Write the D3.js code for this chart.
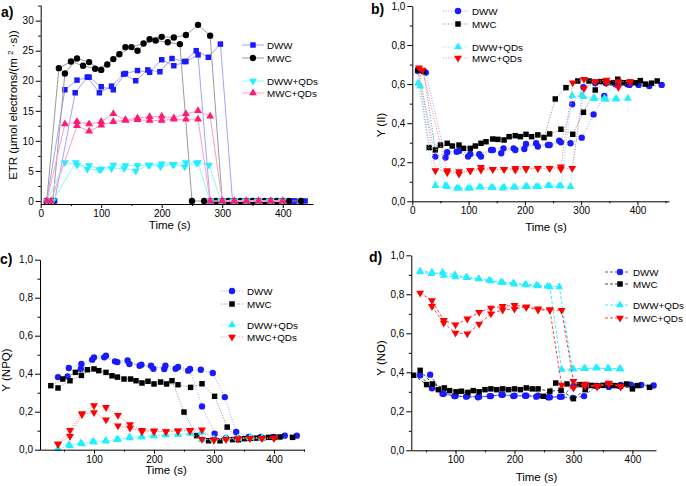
<!DOCTYPE html>
<html><head><meta charset="utf-8">
<script src="https://cdn.jsdelivr.net/npm/d3@7"></script>
<style>
body{margin:0;background:#fff}
text{font-family:"Liberation Sans",Arial,sans-serif;fill:#000}
</style></head><body>
<svg width="686" height="486"></svg>
<script>
// ---- data: each treatment has two replicate runs, [time (s), value]
// a) ETR
const etrDWW=[
 [[10,0],[40,18.5],[60,20.1],[80,20.6],[100,19.0],[120,18.5],[140,21.2],[160,21.7],[180,21.4],[200,23.5],[220,22.5],[240,23.2],[260,24.3],[280,0],[300,0],[320,0],[340,0],[360,0],[380,0],[400,0],[420,0]],
 [[23,0],[57,18.0],[77,20.6],[97,18.0],[117,19.1],[137,21.1],[157,20.0],[177,21.8],[197,21.5],[217,23.7],[237,23.2],[257,25.0],[277,23.9],[297,26.1],[317,0],[337,0],[357,0],[377,0],[397,0],[417,0],[437,0]]];
const etrMWC=[
 [[10,0],[30,22.1],[50,23.2],[70,22.5],[90,22.0],[110,22.7],[130,24.4],[150,25.6],[170,26.2],[190,26.7],[210,26.4],[230,26.1],[250,0],[270,0],[290,0],[310,0],[330,0],[350,0],[370,0],[390,0],[410,0],[430,0]],
 [[20,0],[40,21.2],[60,23.7],[80,23.1],[100,21.8],[120,23.6],[140,25.6],[160,25.0],[180,26.9],[200,27.3],[220,27.2],[240,27.6],[260,29.3],[280,27.5],[300,0],[320,0],[340,0],[360,0],[380,0],[400,0]]];
const etrDWWQ=[
 [[10,0],[40,6.4],[60,6.0],[80,5.9],[100,5.3],[120,6.0],[140,5.9],[160,5.9],[180,6.0],[200,6.2],[220,6.1],[240,6.4],[260,6.4],[280,0],[300,0],[320,0],[340,0],[360,0],[380,0],[400,0]],
 [[20,0],[58,6.4],[77,5.3],[97,5.2],[117,5.4],[138,5.4],[157,5.0],[178,6.0],[198,5.7],[218,6.1],[238,5.7],[258,6.3],[278,6.0],[298,0],[318,0],[338,0],[358,0],[378,0],[398,0]]];
const etrMWCQ=[
 [[10,0],[40,12.8],[60,13.2],[80,12.8],[100,13.2],[120,14.5],[140,13.5],[160,13.8],[180,14.0],[200,14.1],[220,13.8],[240,14.5],[260,15.0],[280,14.1],[300,0],[320,0],[340,0],[360,0],[380,0],[400,0]],
 [[17,0],[60,12.5],[80,11.6],[100,12.6],[120,13.2],[140,13.4],[160,13.5],[180,13.4],[200,13.4],[220,13.6],[240,13.6],[260,13.6],[280,0],[300,0],[320,0],[340,0],[360,0],[380,0],[400,0]]];
// b) Y(II)
const y2DWW=[
 [[10,0.667],[41,0.229],[62,0.251],[83,0.258],[103,0.242],[122,0.229],[143,0.263],[162,0.271],[183,0.263],[202,0.294],[223,0.28],[244,0.288],[264,0.302],[284,0.497],[304,0.584],[325,0.604],[344,0.604],[365,0.596],[386,0.596]],
 [[24,0.659],[59,0.224],[79,0.254],[99,0.229],[119,0.241],[140,0.263],[158,0.246],[180,0.271],[199,0.268],[220,0.297],[241,0.288],[261,0.31],[281,0.297],[301,0.326],[322,0.445],[341,0.54],[361,0.599],[382,0.599],[402,0.596],[421,0.59],[443,0.596]]];
const y2MWC=[
 [[10,0.672],[30,0.275],[50,0.288],[71,0.283],[91,0.271],[112,0.283],[131,0.305],[152,0.317],[172,0.331],[192,0.331],[212,0.331],[234,0.326],[254,0.524],[273,0.582],[294,0.616],[314,0.616],[334,0.613],[355,0.607],[376,0.607],[396,0.607],[414,0.6],[435,0.616]],
 [[20,0.665],[41,0.263],[62,0.297],[83,0.288],[103,0.271],[122,0.297],[143,0.319],[163,0.314],[183,0.336],[202,0.343],[223,0.34],[244,0.345],[264,0.369],[285,0.343],[304,0.456],[325,0.57],[344,0.613],[365,0.625],[386,0.61],[405,0.618],[425,0.605]]];
const y2DWWQ=[
 [[10,0.604],[41,0.08],[62,0.075],[83,0.067],[103,0.067],[122,0.072],[143,0.07],[163,0.072],[183,0.072],[204,0.075],[224,0.075],[244,0.078],[264,0.078],[284,0.541],[304,0.536],[324,0.527],[344,0.522],[363,0.524]],
 [[14,0.59],[59,0.08],[79,0.067],[99,0.067],[119,0.072],[140,0.07],[160,0.067],[180,0.072],[201,0.075],[220,0.075],[241,0.08],[261,0.078],[281,0.075],[301,0.544],[322,0.527],[341,0.527],[361,0.524],[383,0.527]]];
const y2MWCQ=[
 [[12,0.684],[41,0.157],[62,0.157],[83,0.152],[103,0.157],[122,0.174],[143,0.164],[163,0.164],[183,0.169],[202,0.169],[223,0.169],[244,0.169],[264,0.177],[285,0.607],[305,0.625],[325,0.613],[345,0.621],[366,0.613],[387,0.613]],
 [[18,0.672],[62,0.147],[83,0.14],[103,0.157],[122,0.16],[143,0.164],[163,0.164],[183,0.16],[202,0.165],[223,0.169],[244,0.169],[264,0.165],[284,0.169],[305,0.578],[325,0.613],[345,0.607],[366,0.584],[387,0.61]]];
// c) Y(NPQ)
const npqDWW=[
 [[40,0.382],[56,0.386],[78,0.425],[97,0.474],[117,0.486],[135,0.465],[156,0.47],[176,0.442],[195,0.442],[217,0.425],[236,0.426],[257,0.416],[278,0.421],[298,0.404],[318,0.277],[337,0.093],[358,0.067],[378,0.067],[399,0.067],[418,0.074],[438,0.074]],
 [[58,0.43],[79,0.451],[100,0.486],[120,0.495],[139,0.461],[159,0.451],[179,0.447],[199,0.426],[219,0.442],[240,0.435],[260,0.425],[280,0.228],[301,0.084],[320,0.06],[340,0.06],[360,0.062],[380,0.062],[400,0.065]]];
const npqMWC=[
 [[28,0.337],[48,0.372],[69,0.407],[89,0.421],[108,0.416],[130,0.389],[150,0.372],[170,0.363],[190,0.36],[211,0.356],[230,0.363],[250,0.198],[271,0.074],[291,0.047],[310,0.047],[331,0.053],[351,0.058],[371,0.061],[391,0.065],[410,0.067],[431,0.065]],
 [[40,0.325],[60,0.363],[79,0.391],[100,0.425],[120,0.407],[139,0.382],[161,0.372],[180,0.351],[200,0.346],[221,0.346],[240,0.342],[261,0.328],[280,0.347],[301,0.281],[322,0.119],[341,0.053],[361,0.06],[381,0.06],[400,0.065]]];
const npqDWWQ=[
 [[40,0.005],[60,0.02],[80,0.03],[100,0.04],[120,0.048],[140,0.055],[160,0.062],[180,0.067],[200,0.072],[220,0.077],[240,0.08],[260,0.085],[280,0.053],[300,0.056],[320,0.06],[340,0.06],[360,0.063],[380,0.06]],
 [[58,0.026],[78,0.035],[98,0.044],[119,0.044],[138,0.053],[159,0.067],[179,0.067],[199,0.074],[219,0.079],[240,0.082],[260,0.088],[279,0.091],[299,0.056],[320,0.061],[340,0.061],[361,0.065],[380,0.061]]];
const npqMWCQ=[
 [[40,0.03],[60,0.102],[80,0.19],[100,0.232],[120,0.223],[140,0.181],[160,0.132],[180,0.102],[200,0.1],[220,0.096],[240,0.1],[260,0.102],[280,0.105],[300,0.053],[320,0.055],[340,0.058],[360,0.06],[380,0.06],[400,0.061]],
 [[40,0.03],[60,0.07],[80,0.185],[100,0.196],[120,0.158],[140,0.126],[160,0.114],[180,0.095],[200,0.095],[220,0.095],[240,0.098],[260,0.1],[280,0.055],[300,0.05],[320,0.055],[340,0.058],[360,0.06],[380,0.06],[400,0.062]]];
// d) Y(NO)
const noDWW=[
 [[40,0.385],[60,0.318],[80,0.29],[100,0.278],[120,0.278],[140,0.275],[160,0.278],[180,0.285],[200,0.28],[220,0.28],[240,0.28],[260,0.272],[280,0.275],[300,0.33],[320,0.335],[340,0.33],[360,0.325],[380,0.335],[400,0.33]],
 [[57,0.388],[78,0.29],[98,0.278],[118,0.275],[138,0.272],[158,0.278],[178,0.285],[198,0.278],[218,0.28],[237,0.275],[257,0.272],[277,0.275],[299,0.268],[318,0.278],[338,0.33],[358,0.34],[378,0.33],[397,0.337],[415,0.335],[436,0.332]]];
const noMWC=[
 [[29,0.385],[51,0.337],[71,0.311],[90,0.306],[110,0.303],[130,0.306],[150,0.311],[170,0.311],[190,0.311],[210,0.311],[230,0.315],[249,0.277],[270,0.345],[289,0.34],[310,0.337],[330,0.333],[350,0.333],[370,0.332],[390,0.34],[409,0.332],[429,0.323]],
 [[40,0.41],[61,0.34],[81,0.32],[101,0.3],[121,0.297],[140,0.3],[160,0.315],[180,0.315],[200,0.315],[220,0.32],[240,0.315],[260,0.303],[279,0.308],[300,0.265],[320,0.311],[340,0.33],[360,0.335],[380,0.33],[400,0.315]]];
const noDWWQ=[
 [[40,0.918],[60,0.913],[80,0.896],[100,0.889],[120,0.885],[140,0.878],[160,0.868],[180,0.86],[200,0.852],[220,0.848],[240,0.843],[260,0.838],[280,0.414],[300,0.417],[320,0.419],[340,0.422],[360,0.419],[380,0.417]],
 [[40,0.915],[59,0.905],[78,0.913],[99,0.9],[118,0.887],[139,0.88],[157,0.872],[177,0.863],[198,0.858],[218,0.85],[237,0.846],[256,0.841],[276,0.838],[298,0.417],[318,0.419],[338,0.422],[358,0.419],[378,0.417]]];
const noMWCQ=[
 [[40,0.807],[60,0.768],[80,0.667],[100,0.644],[120,0.674],[140,0.708],[160,0.73],[180,0.738],[200,0.744],[220,0.735],[240,0.726],[260,0.72],[280,0.718],[300,0.354],[320,0.33],[340,0.33],[360,0.345],[380,0.325]],
 [[60,0.738],[80,0.653],[100,0.602],[120,0.598],[140,0.648],[160,0.70],[180,0.72],[200,0.725],[220,0.735],[240,0.72],[260,0.72],[280,0.335],[300,0.32],[320,0.34],[340,0.325],[360,0.34],[380,0.33]]];

const names=['DWW','MWC','DWW+QDs','MWC+QDs'];

const svg=d3.select('svg');
const comma=d=>d3.format('.1f')(d).replace('.',',');
const up=d3.symbolTriangle, sq=d3.symbolSquare, ci=d3.symbolCircle;

// marker / line styles per treatment
const styleA=[
 {shape:sq,size:30,color:'#1a1aff',line:'#a3a3ff'},
 {shape:ci,size:32,color:'#000',line:'#9b9b9b'},
 {shape:up,size:27,flip:true,color:'#22eeff',line:'#8ff6ff'},
 {shape:up,size:27,color:'#ff1a75',line:'#ff9ec0'}];
const styleB=[
 {shape:ci,size:32,color:'#1a1aff',line:'#a3a3ff'},
 {shape:sq,size:30,color:'#000',line:'#8c8c8c'},
 {shape:up,size:27,color:'#22eeff',line:'#66f2ff'},
 {shape:up,size:27,flip:true,color:'#ff0000',line:'#ff8080'}];
const styleD=[
 {shape:ci,size:32,color:'#1a1aff',line:'#4d4dff'},
 {shape:sq,size:30,color:'#000',line:'#444'},
 {shape:up,size:27,color:'#22eeff',line:'#33eeff'},
 {shape:up,size:27,flip:true,color:'#ff0000',line:'#ff4040'}];

const panels=[
 {lab:'a)',lx:1,ly:17,left:40.7,right:313,top:5,bottom:204,xDom:[0,450],yDom:[-0.5,32.6],
  xTicks:[0,100,200,300,400],xMinor:[50,150,250,350],yTicks:[0,5,10,15,20,25,30],yMinor:[2.5,7.5,12.5,17.5,22.5,27.5,32.5],
  yFmt:d3.format('d'),dash:null,style:styleA,data:[etrDWW,etrMWC,etrDWWQ,etrMWCQ],
  xt:[169.7,229],yt:[17,105],
  leg:{x0:242,x1:264,m:253,t:267,rows:[45,58,81,93]}},
 {lab:'b)',lx:371,ly:14,left:412.3,right:669,top:6,bottom:201.3,xDom:[0,456],yDom:[0,1],
  xTicks:[0,100,200,300,400],xMinor:[50,150,250,350,450],yTicks:[0,.2,.4,.6,.8,1],yMinor:[.1,.3,.5,.7,.9],
  yFmt:comma,dash:'1,1.6',style:styleB,data:[y2DWW,y2MWC,y2DWWQ,y2MWCQ],
  xt:[546,231],yt:[385,125],
  leg:{x0:443,x1:468,m:458,t:472,rows:[11,24,47,58]}},
 {lab:'c)',lx:0,ly:264,left:40,right:304,top:259.7,bottom:449.7,xDom:[10,450],yDom:[0,1],
  xTicks:[100,200,300,400],xMinor:[50,150,250,350,450],yTicks:[0,.2,.4,.6,.8,1],yMinor:[.1,.3,.5,.7,.9],
  yFmt:comma,dash:'1,1.6',style:styleB,data:[npqDWW,npqMWC,npqDWWQ,npqMWCQ],
  xt:[166,474],yt:[10,370],
  leg:{x0:221,x1:243,m:232,t:247,rows:[291,304,325,337]}},
 {lab:'d)',lx:369,ly:262,left:411.3,right:656,top:255.3,bottom:450.3,xDom:[25,440],yDom:[0,1],
  xTicks:[100,200,300,400],xMinor:[50,150,250,350],yTicks:[0,.2,.4,.6,.8,1],yMinor:[.1,.3,.5,.7,.9],
  yFmt:comma,dash:'3,2',style:styleD,data:[noDWW,noMWC,noDWWQ,noMWCQ],
  xt:[536.5,481],yt:[385,358],
  leg:{x0:605,x1:630,m:620,t:633,rows:[272,284,305,318]}}
];
const yTitles=['ETR','Y (II)','Y (NPQ)','Y (NO)'];

function marker(sel,s,px,py){
  sel.append('path')
    .attr('d',d3.symbol().type(s.shape).size(s.size))
    .attr('fill',s.color)
    .attr('transform',`translate(${px},${py})`+(s.flip?' rotate(180)':''));
}

panels.forEach((p,pi)=>{
  const x=d3.scaleLinear().domain(p.xDom).range([p.left,p.right]);
  const y=d3.scaleLinear().domain(p.yDom).range([p.bottom,p.top]);
  const g=svg.append('g');
  const line=d3.line().x(d=>x(d[0])).y(d=>y(d[1]));

  p.data.forEach((reps,si)=>{
    const s=p.style[si];
    reps.forEach(rep=>{
      g.append('path').attr('d',line(rep)).attr('fill','none')
        .attr('stroke',s.line).attr('stroke-width',1)
        .attr('stroke-dasharray',p.dash);
    });
    reps.forEach(rep=>rep.forEach(d=>marker(g,s,x(d[0]),y(d[1]))));
  });

  // axes, major + minor ticks
  g.append('g').attr('transform',`translate(0,${p.bottom})`)
    .call(d3.axisBottom(x).tickValues(p.xTicks).tickSize(4).tickPadding(2).tickSizeOuter(0));
  g.append('g').attr('transform',`translate(0,${p.bottom})`)
    .call(d3.axisBottom(x).tickValues(p.xMinor).tickSize(2).tickFormat('').tickSizeOuter(0))
    .select('.domain').remove();
  g.append('g').attr('transform',`translate(${p.left},0)`)
    .call(d3.axisLeft(y).tickValues(p.yTicks).tickFormat(p.yFmt).tickSize(5).tickPadding(2).tickSizeOuter(0));
  g.append('g').attr('transform',`translate(${p.left},0)`)
    .call(d3.axisLeft(y).tickValues(p.yMinor.filter(v=>v<=p.yDom[1])).tickSize(2.5).tickFormat('').tickSizeOuter(0))
    .select('.domain').remove();
  g.selectAll('.tick text').attr('font-size','10px').attr('font-family','"Liberation Sans",Arial,sans-serif');
  g.selectAll('.domain,.tick line').attr('stroke','#000');

  // titles
  svg.append('text').attr('x',p.lx).attr('y',p.ly).attr('font-size','14px').attr('font-weight','bold').text(p.lab);
  svg.append('text').attr('x',p.xt[0]).attr('y',p.xt[1]).attr('text-anchor','middle').attr('font-size','11.5px').text('Time (s)');
  const yt=svg.append('text').attr('text-anchor','middle').attr('font-size','11.5px')
    .attr('transform',`translate(${p.yt[0]},${p.yt[1]}) rotate(-90)`);
  if(pi===0){
    yt.append('tspan').text('ETR (µmol electrons/(m ');
    yt.append('tspan').attr('font-size','8px').attr('dy',-4).text('2');
    yt.append('tspan').attr('dy',4).text(' ·s))');
  } else yt.text(yTitles[pi]);

  // legend
  const L=p.leg;
  names.forEach((n,i)=>{
    const s=p.style[i], ry=L.rows[i];
    svg.append('line').attr('x1',L.x0).attr('x2',L.x1).attr('y1',ry).attr('y2',ry)
      .attr('stroke',s.line).attr('stroke-width',1).attr('stroke-dasharray',p.dash);
    marker(svg,s,L.m,ry);
    svg.append('text').attr('x',L.t).attr('y',ry).attr('dy','0.36em').attr('font-size','9.8px').text(n);
  });
});
</script>
</body></html>
